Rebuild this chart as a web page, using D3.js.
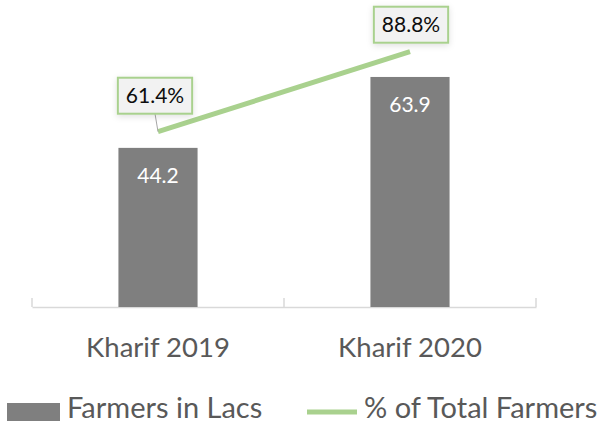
<!DOCTYPE html>
<html>
<head>
<meta charset="utf-8">
<script src="https://cdn.jsdelivr.net/npm/d3@7"></script>
<style>
  body { margin: 0; background: #fff; }
  text { font-family: Lato, "Open Sans", sans-serif; }
</style>
</head>
<body>
<div id="chart"></div>
<script>
// data
var seasons = ["Kharif 2019", "Kharif 2020"];
var farmersLacs = [44.2, 63.9];
var pctTotal = [61.4, 88.8];
var seriesNames = ["Farmers in Lacs", "% of Total Farmers"];

// label nudges (Excel labels were dragged by hand)
var labelShift = [[-3, -36], [1, -27]];

var W = 603, H = 424;
var barColor = "#7f7f7f", lineColor = "#a9d18e", textColor = "#595959";

var svg = d3.select("#chart").append("svg")
    .attr("width", W)
    .attr("height", H);

var defs = svg.append("defs");
var shadow = defs.append("filter").attr("id", "shadow")
    .attr("x", "-30%").attr("y", "-30%").attr("width", "160%").attr("height", "160%");
shadow.append("feDropShadow")
    .attr("dx", 0).attr("dy", 2).attr("stdDeviation", 3)
    .attr("flood-color", "#000").attr("flood-opacity", 0.12);

// scales
var x = d3.scaleBand().domain(seasons).range([32, 536])
    .paddingInner(0.686).paddingOuter(0.343);
var y = d3.scaleLinear().domain([0, 70]).range([307, 55]);
var y2 = d3.scaleLinear().domain([0, 100]).range([311, 19]);

// axis
var xAxis = d3.axisBottom(x).tickSize(0).tickPadding(0);
var axisG = svg.append("g")
    .attr("class", "x-axis")
    .attr("transform", "translate(0," + y(0) + ")")
    .call(xAxis);
axisG.select(".domain").attr("stroke", "#d9d9d9").attr("stroke-width", 1.5);
axisG.selectAll("text")
    .attr("dy", 0)
    .attr("y", 50)
    .attr("fill", textColor)
    .style("font-size", "27.5px")
    .style("font-family", "Lato, sans-serif");

// tick marks sit between categories
var bounds = d3.range(seasons.length + 1).map(i => x.range()[0] + i * x.step());
svg.selectAll(".tickmark").data(bounds).enter().append("line")
    .attr("class", "tickmark")
    .attr("x1", d => d).attr("x2", d => d)
    .attr("y1", y(0) - 9).attr("y2", y(0))
    .attr("stroke", "#d9d9d9").attr("stroke-width", 1.5);

// bars
svg.selectAll(".bar").data(farmersLacs).enter().append("rect")
    .attr("class", "bar")
    .attr("x", (d, i) => x(seasons[i]))
    .attr("width", x.bandwidth())
    .attr("y", d => y(d))
    .attr("height", d => y(0) - y(d))
    .attr("fill", barColor);

svg.selectAll(".barlabel").data(farmersLacs).enter().append("text")
    .attr("class", "barlabel")
    .attr("x", (d, i) => x(seasons[i]) + x.bandwidth() / 2)
    .attr("y", d => y(d) + 35)
    .attr("text-anchor", "middle")
    .attr("fill", "#fff")
    .style("font-size", "21px")
    .text(d => d.toFixed(1));

// line on secondary axis
var cx = i => x(seasons[i]) + x.bandwidth() / 2;
var line = d3.line()
    .x((d, i) => cx(i))
    .y(d => y2(d));

svg.append("path")
    .datum(pctTotal)
    .attr("d", line)
    .attr("fill", "none")
    .attr("stroke", lineColor)
    .attr("stroke-width", 5);

// line labels in boxes
pctTotal.forEach((d, i) => {
    var px = cx(i), py = y2(d);
    var lx = px + labelShift[i][0], ly = py + labelShift[i][1];
    var g = svg.append("g");
    var t = g.append("text")
        .attr("x", lx)
        .attr("y", ly)
        .attr("dy", "0.36em")
        .attr("text-anchor", "middle")
        .attr("fill", "#0d0d0d")
        .style("font-size", "21px")
        .text(d.toFixed(1) + "%");
    var tw = t.node().getComputedTextLength();
    var bw = tw + 16, bh = 36;
    if (py - (ly + bh / 2) > 12) {
        g.insert("line", "text")
            .attr("x1", lx).attr("y1", ly + bh / 2)
            .attr("x2", px).attr("y2", py)
            .attr("stroke", "#a6a6a6").attr("stroke-width", 1);
    }
    g.insert("rect", "text")
        .attr("x", lx - bw / 2)
        .attr("y", ly - bh / 2)
        .attr("width", bw)
        .attr("height", bh)
        .attr("fill", "#f2f2f2")
        .attr("stroke", lineColor)
        .attr("stroke-width", 2)
        .attr("filter", "url(#shadow)");
});

// legend
var legend = svg.append("g").attr("class", "legend");
legend.append("rect")
    .attr("x", 7).attr("y", 403)
    .attr("width", 53).attr("height", 18)
    .attr("fill", barColor);
legend.append("text")
    .attr("x", 67).attr("y", 418)
    .attr("fill", textColor)
    .style("font-size", "29px")
    .text(seriesNames[0]);
legend.append("line")
    .attr("x1", 307).attr("x2", 357)
    .attr("y1", 412).attr("y2", 412)
    .attr("stroke", lineColor)
    .attr("stroke-width", 5);
legend.append("text")
    .attr("x", 364).attr("y", 418)
    .attr("fill", textColor)
    .style("font-size", "29px")
    .text(seriesNames[1]);
</script>
</body>
</html>
